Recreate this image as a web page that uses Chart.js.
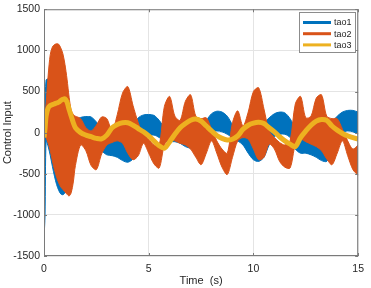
<!DOCTYPE html>
<html>
<head>
<meta charset="utf-8">
<script src="https://cdn.jsdelivr.net/npm/chart.js@4"></script>
<style>
    html, body { margin: 0; padding: 0; background: #fff; }
    #wrap { width: 371px; height: 288px; }
</style>
</head>
<body>
<div id="wrap"><canvas id="controlChart" width="371" height="288"></canvas></div>
<script>
// time grid (s)
const time = [0, 0.05, 0.1, 0.2, 0.3, 0.4, 0.5, 0.6, 0.7, 0.8, 0.9, 1.0, 1.1, 1.2, 1.3, 1.4, 1.5,
    1.75, 2, 2.25, 2.5, 2.75, 3, 3.25, 3.5, 3.75, 4, 4.25, 4.5, 4.75, 5, 5.25, 5.5, 5.75, 6,
    6.25, 6.5, 6.75, 7, 7.25, 7.5, 7.75, 8, 8.25, 8.5, 8.75, 9, 9.25, 9.5, 9.75, 10, 10.25,
    10.5, 10.75, 11, 11.25, 11.5, 11.75, 12, 12.25, 12.5, 12.75, 13, 13.25, 13.5, 13.75, 14,
    14.25, 14.5, 14.75, 15];

// tao1: envelope of the fast oscillation (upper / lower)
const tao1Upper = [-1250, 300, 640, 650, 560, 480, 400, 320, 260, 210, 180, 160, 150, 150, 150, 150, 160,
    185, 195, 190, 130, 40, -30, -60, -60, -40, 0, 80, 180, 215, 220, 210, 150, 60, 0,
    -20, -10, 0, 20, 40, 80, 150, 230, 260, 250, 200, 100, 50, 40, 60, 80, 90,
    120, 180, 230, 250, 240, 170, 60, 0, -20, 0, 30, 50, 80, 130, 200,
    250, 270, 270, 250];
const tao1Lower = [-1290, -1000, -100, -170, -280, -410, -530, -630, -700, -745, -755, -730, -640, -500, -380, -280, -200,
    -120, -80, -90, -150, -220, -270, -280, -300, -340, -360, -320, -200, -100, -40, -30, -60, -100, -110,
    -110, -130, -170, -190, -200, -180, -100, 0, 20, 10, -20, -60, -100, -150, -250, -330, -350,
    -300, -150, -50, -20, -20, -60, -200, -250, -250, -270, -300, -340, -350, -250, -100,
    0, 20, 10, -20];

// tao2
const tao2Upper = [130, 200, 350, 700, 950, 1040, 1070, 1080, 1075, 1030, 960, 830, 650, 430, 270, 220, 200,
    170, 60, 20, 90, 190, 170, 20, 220, 480, 560, 330, 120, -20, -80, -150, -150, 320, 440,
    200, 150, 380, 460, 200, 170, 180, 40, -100, -200, -250, 120, 265, 80, 250, 500, 545,
    290, 20, -60, -120, -150, -100, 350, 440, 180, 200, 420, 460, 200, 170, 170,
    40, -100, -200, -150];
const tao2Lower = [0, -30, -60, -130, -220, -340, -450, -540, -610, -660, -690, -720, -750, -770, -730, -600, -400,
    -150, -220, -400, -450, -260, -150, -120, -100, -130, -250, -330, -280, -130, -250, -380, -430, -150, -80,
    -100, -130, -150, -200, -300, -390, -250, -100, -250, -420, -510, -300, -100, -60, -80, -200, -330,
    -300, -140, -200, -350, -420, -430, -150, -80, -110, -140, -170, -220, -320, -390, -250,
    -100, -280, -450, -520];

// tao3
const tao3 = [-60, 50, 200, 300, 330, 340, 350, 360, 370, 390, 405, 410, 370, 280, 200, 120, 60,
    0, -30, -50, -70, -75, -30, 60, 100, 120, 120, 90, 50, 10, -40, -100, -160, -190, -110,
    -20, 60, 110, 150, 165, 140, 80, 20, -35, -70, -90, -80, -40, 40, 90, 115, 125,
    110, 60, 10, -50, -100, -140, -170, -60, 20, 90, 140, 160, 150, 80, 30,
    -10, -40, -60, -80];

const seriesNames = ['tao1', 'tao2', 'tao3'];
const seriesColors = ['#0072BD', '#D95319', '#EDB120'];
const xTicks = [0, 5, 10, 15];
const yTicks = [-1500, -1000, -500, 0, 500, 1000, 1500];

const toPoints = arr => arr.map((v, i) => ({ x: time[i], y: v }));

const band = (values, color, fill) => ({
    data: toPoints(values),
    borderColor: color,
    backgroundColor: color,
    borderWidth: 1,
    pointRadius: 0,
    tension: 0.3,
    fill: fill
});

// first dataset is drawn last (on top)
const datasets = [
    {
        data: toPoints(tao3),
        borderColor: seriesColors[2],
        borderWidth: 5,
        pointRadius: 0,
        tension: 0.3,
        fill: false
    },
    band(tao2Upper, seriesColors[1], 2),
    band(tao2Lower, seriesColors[1], false),
    band(tao1Upper, seriesColors[0], 4),
    band(tao1Lower, seriesColors[0], false)
];

const frame = {
    id: 'frame',
    afterDatasetsDraw(chart) {
        const { ctx, chartArea: a, scales: { x, y } } = chart;
        ctx.save();
        ctx.strokeStyle = '#7a7a7a';
        ctx.lineWidth = 1;
        ctx.strokeRect(a.left + 0.5, a.top + 0.5, a.right - a.left - 1, a.bottom - a.top - 1);
        ctx.beginPath();
        xTicks.forEach(v => {
            const px = Math.round(x.getPixelForValue(v)) + 0.5;
            ctx.moveTo(px, a.bottom); ctx.lineTo(px, a.bottom - 3);
            ctx.moveTo(px, a.top); ctx.lineTo(px, a.top + 3);
        });
        yTicks.forEach(v => {
            const py = Math.round(y.getPixelForValue(v)) + 0.5;
            ctx.moveTo(a.left, py); ctx.lineTo(a.left + 3, py);
            ctx.moveTo(a.right, py); ctx.lineTo(a.right - 3, py);
        });
        ctx.stroke();

        // legend box, top right
        const lx = 299.5, ly = 12.5, lw = 56, lh = 40;
        ctx.fillStyle = '#fff';
        ctx.fillRect(lx, ly, lw, lh);
        ctx.strokeStyle = '#8c8c8c';
        ctx.strokeRect(lx, ly, lw, lh);
        ctx.font = '9px "Liberation Sans", Arial, sans-serif';
        ctx.textBaseline = 'middle';
        seriesNames.forEach((name, i) => {
            const ry = 22.5 + i * 11.2;
            ctx.strokeStyle = seriesColors[i];
            ctx.lineWidth = 3;
            ctx.beginPath();
            ctx.moveTo(303, ry); ctx.lineTo(331, ry);
            ctx.stroke();
            ctx.fillStyle = '#262626';
            ctx.fillText(name, 334, ry + 0.5);
        });
        ctx.restore();
    }
};

new Chart(document.getElementById('controlChart').getContext('2d'), {
    type: 'line',
    data: { datasets: datasets },
    options: {
        responsive: false,
        animation: false,
        layout: { padding: { top: 5, right: 7, left: 0, bottom: 0 } },
        plugins: {
            legend: { display: false },
            tooltip: { enabled: false }
        },
        scales: {
            x: {
                type: 'linear',
                min: 0,
                max: 15,
                afterFit: s => { s.height = 32; },
                afterBuildTicks: s => { s.ticks = xTicks.map(v => ({ value: v })); },
                grid: { color: '#e4e4e4', drawTicks: false },
                border: { display: false },
                ticks: {
                    padding: 7,
                    color: '#262626',
                    callback: v => String(v),
                    font: { family: '"Liberation Sans", Arial, sans-serif', size: 10.5 }
                },
                title: {
                    display: true,
                    text: 'Time  (s)',
                    color: '#262626',
                    padding: 0,
                    font: { family: '"Liberation Sans", Arial, sans-serif', size: 11 }
                }
            },
            y: {
                min: -1500,
                max: 1500,
                afterFit: s => { s.width = 44; },
                afterBuildTicks: s => { s.ticks = yTicks.map(v => ({ value: v })); },
                grid: { color: '#e4e4e4', drawTicks: false },
                border: { display: false },
                ticks: {
                    padding: 4,
                    color: '#262626',
                    callback: v => String(v),
                    font: { family: '"Liberation Sans", Arial, sans-serif', size: 10.5, lineHeight: 1 }
                },
                title: {
                    display: true,
                    text: 'Control Input',
                    color: '#262626',
                    padding: { top: 1.5, bottom: 0 },
                    font: { family: '"Liberation Sans", Arial, sans-serif', size: 11 }
                }
            }
        }
    },
    plugins: [frame]
});
</script>
</body>
</html>
